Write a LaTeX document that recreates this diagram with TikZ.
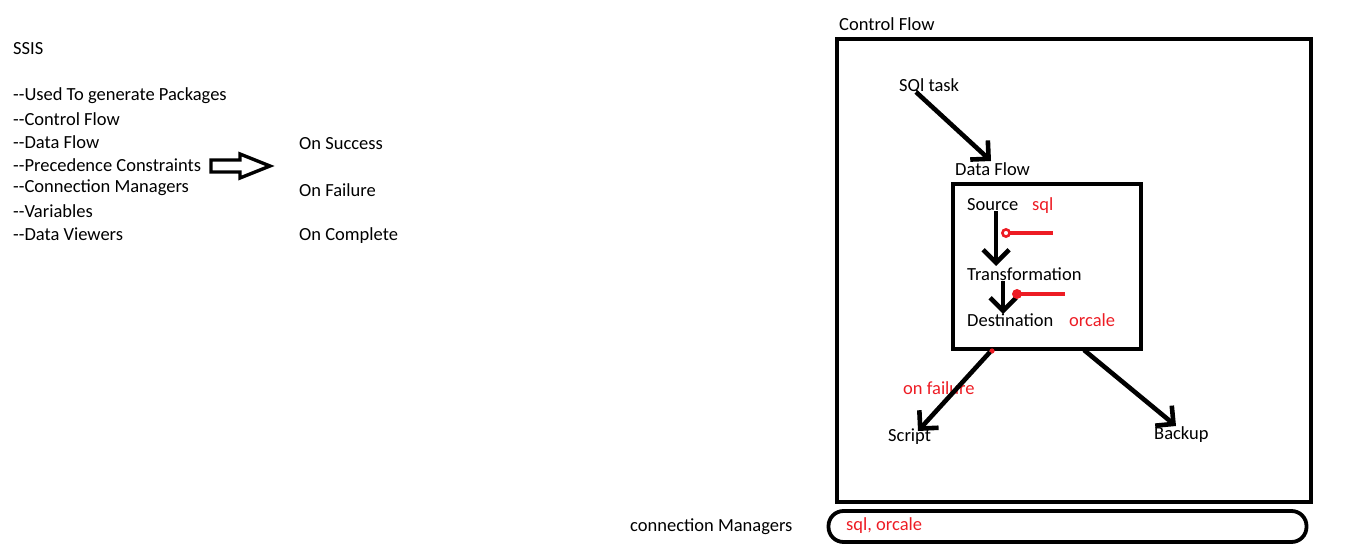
\documentclass[tikz,border=0pt]{standalone}
\usepackage{fontspec}
\setmainfont{Carlito}
\usetikzlibrary{arrows.meta}
\definecolor{pred}{HTML}{ED1C24}
\begin{document}
\begin{tikzpicture}[x=1pt,y=-1pt,
  txt/.style={anchor=west,inner sep=0pt,font=\fontsize{18.5}{20}\selectfont},
  rtxt/.style={txt,text=pred},
  bigarrow/.style={line width=4.6pt,-{Straight Barb[length=13pt,width=26pt,line width=4.6pt]}},
  redline/.style={draw=pred,line width=3.2pt},
  frame/.style={draw=black,line width=4pt}]
\useasboundingbox (0,0) rectangle (1360,545);
% left list
\node[txt] (ssis) at (13,49) {SSIS};
\node[txt] (l1) at (13,96) {-{}-Used To generate Packages};
\node[txt] (l2) at (13,119) {-{}-Control Flow};
\node[txt] (l3) at (13,142) {-{}-Data Flow};
\node[txt] (l4) at (13,165) {-{}-Precedence Constraints};
\node[txt] (l5) at (13,188) {-{}-Connection Managers};
\node[txt] (l6) at (13,211) {-{}-Variables};
\node[txt] (l7) at (13,234) {-{}-Data Viewers};
% block arrow
\draw[line width=3.4pt,line join=miter] (211,160) -- (240,160) -- (240,154) -- (270,166) -- (240,178) -- (240,172) -- (211,172) -- cycle;
\node[txt] (os) at (299,144) {On Success};
\node[txt] (of) at (299,190) {On Failure};
\node[txt] (oc) at (299,236) {On Complete};
% control flow
\node[txt] (cft) at (839,24) {Control Flow};
\node[frame,minimum width=474pt,minimum height=463pt,inner sep=0pt] (cf) at (1074,270.5) {};
\node[txt] (sql) at (899,86) {SQl task};
\node[txt] (dft) at (955,169) {Data Flow};
\coordinate (a1s) at (916,92);
\coordinate (a1e) at (991,161);
\draw[bigarrow] (a1s) -- (a1e);
\node[draw=black,line width=3.8pt,minimum width=188pt,minimum height=165pt,inner sep=0pt] (df) at (1047,266.5) {};
\node[txt] (src) at (967,205) {Source};
\node[rtxt] (srcsql) at (1032,206) {sql};
\node[txt] (tr) at (967,274) {Transformation};
\node[txt] (dst) at (967,320) {Destination};
\node[rtxt] (dstor) at (1069,320) {orcale};
\coordinate (a2s) at (996,211);
\coordinate (a2e) at (996,266);
\draw[bigarrow] (a2s) -- (a2e);
\coordinate (a3s) at (1003,281);
\coordinate (a3e) at (1003,314);
\draw[bigarrow] (a3s) -- (a3e);
\coordinate (r1a) at (1006,233);
\coordinate (r1b) at (1053,233);
\draw[redline] (r1a) -- (r1b);
\draw[draw=pred,line width=2.6pt,fill=white] (r1a) circle (3.6pt);
\coordinate (r2a) at (1017,294);
\coordinate (r2b) at (1065,294);
\draw[redline] (r2a) -- (r2b);
\fill[pred] (r2a) circle (5pt);
\coordinate (rd) at (992,351);
\fill[pred] (rd) circle (2.6pt);
\node[rtxt] (onf) at (903,388) {on failure};
\node[txt] (scr) at (888,437) {Script};
\node[txt] (bk) at (1154,435) {Backup};
\coordinate (a4s) at (990,352);
\coordinate (a4e) at (918,431);
\draw[bigarrow] (a4s) -- (a4e);
\coordinate (a5s) at (1084,350);
\coordinate (a5e) at (1176,426);
\draw[bigarrow] (a5s) -- (a5e);
% connection managers
\node[txt] (cmt) at (630,527) {connection Managers};
\node[draw=black,line width=3.8pt,rounded corners=15pt,minimum width=478pt,minimum height=31pt,inner sep=0pt] (cm) at (1067.5,526.5) {};
\node[rtxt] (cmtxt) at (846,526) {sql, orcale};
\end{tikzpicture}
\end{document}
